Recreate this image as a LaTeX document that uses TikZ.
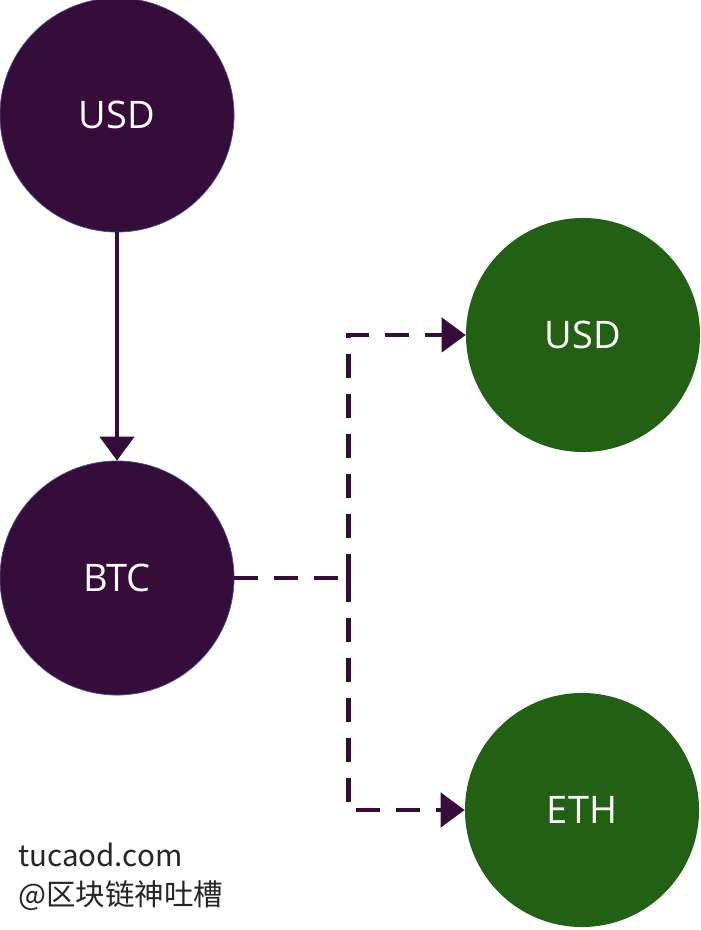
\documentclass[tikz,border=0pt]{standalone}
\usepackage{fontspec}
\setsansfont{Open Sans}
\newfontfamily\cjk{Noto Sans CJK SC}
\usepackage{tikz}
\usetikzlibrary{arrows.meta, positioning}
\definecolor{coinplum}{RGB}{53, 12, 58}
\definecolor{coingreen}{RGB}{34, 97, 20}
\definecolor{rimblue}{RGB}{70, 80, 150}

\begin{document}
\begin{tikzpicture}[
  x=0.025cm, y=-0.025cm,
  >=Stealth,
  coin/.style={
    circle, fill=#1, minimum size=5.85cm, inner sep=0pt,
    text=white, font=\sffamily\fontsize{27}{30}\selectfont
  },
  src/.style={coin=coinplum, draw=rimblue, line width=0.5pt},
  dst/.style={coin=coingreen},
  conv/.style={-{Triangle[length=0.6cm, width=0.85cm]}, draw=coinplum, line width=3.2pt},
  alt/.style={conv, dash pattern=on 0.6cm off 0.4cm},
  wmark/.style={font=\cjk\fontsize{21}{24}\selectfont, text=black!85, inner sep=0pt, anchor=base west},
]

\useasboundingbox (0,0) rectangle (700,930);

% coins
\node[src] (usdA) at (117,115) {USD};
\node[src] (btcA) at (117,578) {BTC};
\node[dst] (usdB) at (583,335) {USD};
\node[dst] (ethB) at (582,810) {ETH};

% direct pair
\draw[conv] (usdA) -- (btcA);

% split to the other pairs
\draw[alt, -] (btcA.east) -- ++(114,0) coordinate (fork);
\draw[alt] (fork) |- (usdB);
\draw[alt] (fork) |- (ethB);

% watermark
\node[wmark] (site) at (18,866) {tucaod.com};
\node[wmark] (handle) at (18,905) {@区块链神吐槽};

\end{tikzpicture}
\end{document}
